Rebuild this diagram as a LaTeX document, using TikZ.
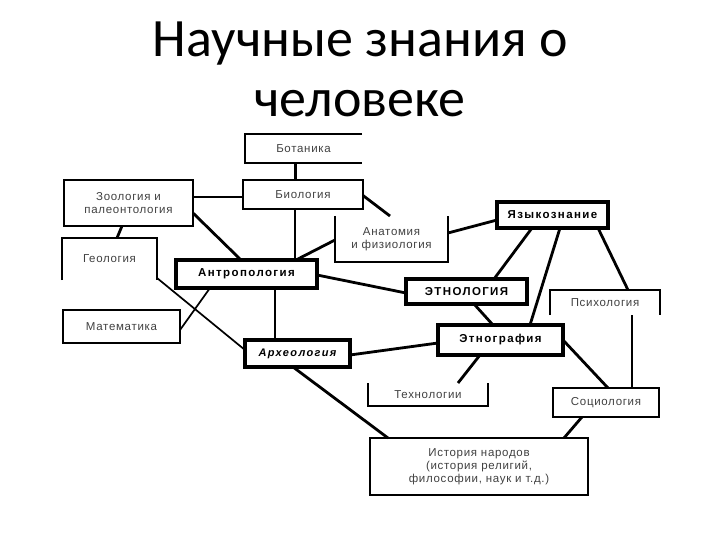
\documentclass[tikz,border=0pt]{standalone}
\usepackage{fontspec}
\setmainfont{Liberation Sans}
\newfontfamily\titlefont{Carlito}
\newfontfamily\boxfont{Liberation Sans}[LetterSpace=6]
\newfontfamily\boldboxfont{Liberation Sans}[LetterSpace=12]
\begin{document}
\begin{tikzpicture}[x=1pt,y=-1pt,
  base/.style={inner sep=0pt, outer sep=0pt, align=center},
  thin/.style={base, draw, line width=1.2pt, font=\boxfont\fontsize{11.5}{13}\selectfont, text=black!75},
  open/.style={base, font=\boxfont\fontsize{11.5}{13}\selectfont, text=black!75},
  thick/.style={base, draw, line width=3.2pt, font=\boldboxfont\bfseries\fontsize{11.5}{13}\selectfont},
  link/.style={line width=2.8pt},
  slim/.style={line width=1.7pt},
  edge/.style={line width=1.2pt},
  ttl/.style={font=\titlefont\fontsize{54}{60}\selectfont, anchor=base, inner sep=0pt}]
\useasboundingbox (0,0) rectangle (720,540);
% title
\node[ttl] (title1) at (360,57) {Научные знания о};
\node[ttl] (title2) at (360,117) {человеке};
% boxes
\node[open, minimum width=117, minimum height=29] (bot) at (303.5,148.5) {Ботаника};
\node[thin, minimum width=120, minimum height=29] (bio) at (303,194.5) {Биология};
\node[thin, minimum width=129, minimum height=46] (zoo) at (128.5,203) {Зоология и\\палеонтология};
\node[open, minimum width=95, minimum height=42] (geo) at (109.5,259) {Геология};
\node[open, minimum width=113, minimum height=46] (ana) at (391.5,239) {Анатомия\\и физиология};
\node[thick, minimum width=111, minimum height=26] (yaz) at (552.5,215) {Языкознание};
\node[thick, minimum width=141, minimum height=28] (anth) at (246.5,274) {Антропология};
\node[thick, minimum width=121, minimum height=25] (etn) at (466.5,291.5) {ЭТНОЛОГИЯ};
\node[open, minimum width=110, minimum height=25] (psy) at (605,302.5) {Психология};
\node[thin, minimum width=117, minimum height=33] (mat) at (121.5,326.5) {Математика};
\node[thick, minimum width=105, minimum height=27, font=\boldboxfont\bfseries\itshape\fontsize{11}{13}\selectfont] (arc) at (297.5,353.5) {Археология};
\node[thick, minimum width=125, minimum height=30] (etg) at (500.5,340) {Этнография};
\node[open, minimum width=120, minimum height=23] (tech) at (428,394.5) {Технологии};
\node[thin, minimum width=106, minimum height=29] (soc) at (606,402.5) {Социология};
\node[thin, minimum width=218, minimum height=57] (his) at (479,466.5) {История народов\\(история религий,\\философии, наук и т.д.)};
% partial outlines
\draw[edge] (bot.north east) -- (bot.north west) -- (bot.south west) -- (bot.south east);
\draw[edge] (geo.south west) -- (geo.north west) -- (geo.north east) -- (geo.south east);
\draw[edge] (psy.south west) -- (psy.north west) -- (psy.north east) -- (psy.south east);
\draw[edge] (ana.north west) -- (ana.south west) -- (ana.south east) -- (ana.north east);
\draw[edge] (tech.north west) -- (tech.south west) -- (tech.south east) -- (tech.north east);
% connectors
\draw[link] ([xshift=-8]bot.south) -- ([xshift=-7.5]bio.north);
\draw[link] ([yshift=6]zoo.east) -- ([yshift=-2.5]bio.west);
\draw[link] ([yshift=-10]zoo.east) -- ([xshift=-5.5]anth.north);
\draw[link] ([xshift=-6.5]zoo.south) -- ([xshift=7.5]geo.north);
\draw[link] ([xshift=-8]bio.south) -- ([xshift=48.5]anth.north);
\draw[link] ([yshift=-1]bio.east) -- ([xshift=-1.5]ana.north);
\draw[link] ([xshift=49.5]anth.north) -- ([yshift=-1]ana.west);
\draw[link] ([yshift=6]ana.east) -- ([yshift=-5]yaz.west);
\draw[link] ([xshift=-20.5]yaz.south) -- ([xshift=27.5]etn.north);
\draw[link] ([xshift=7.5]yaz.south) -- ([xshift=29.5]etg.north);
\draw[link] ([xshift=45.5]yaz.south) -- ([xshift=23]psy.north);
\draw[link] ([yshift=-1]anth.east) -- ([yshift=-1.5]etn.west);
\draw[link] ([xshift=7.5]etn.south) -- ([xshift=-7.5]etg.north);
\draw[slim] ([xshift=-36.5]anth.south) -- ([yshift=-3.5]mat.east);
\draw[slim] ([yshift=-19]geo.east) -- ([yshift=3.5]arc.west);
\draw[link] ([xshift=28.5]anth.south) -- ([xshift=-22.5]arc.north);
\draw[link] ([yshift=-1.5]arc.east) -- ([yshift=-3]etg.west);
\draw[link] ([xshift=-4.5]arc.south) -- ([xshift=-91]his.north);
\draw[link] ([xshift=-20.5]etg.south) -- ([xshift=30]tech.north);
\draw[link] (etg.east) -- ([xshift=2]soc.north);
\draw[link] ([xshift=27]psy.south) -- ([xshift=26]soc.north);
\draw[link] ([xshift=-24]soc.south) -- ([xshift=85]his.north);
\end{tikzpicture}
\end{document}
